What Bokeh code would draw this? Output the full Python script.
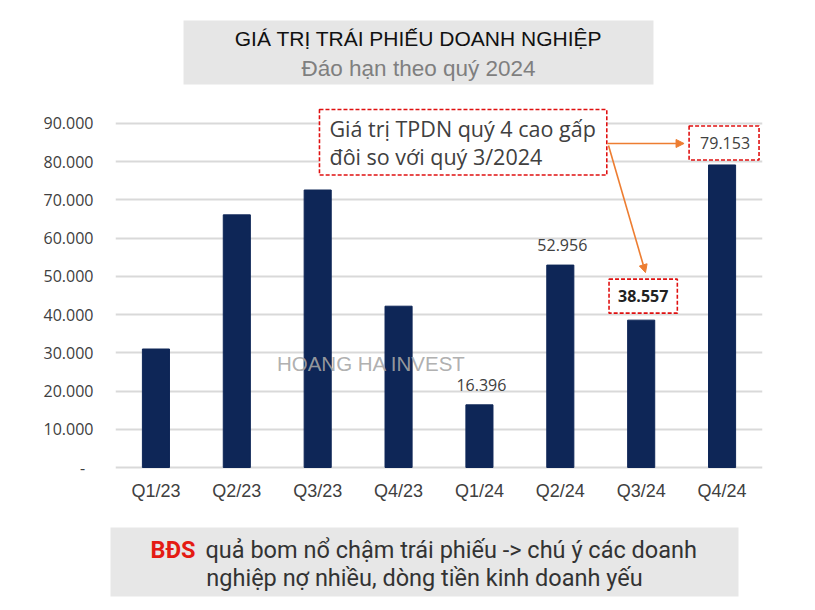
from bokeh.plotting import figure
from bokeh.models import (Range1d, FixedTicker, Label, BoxAnnotation, Arrow, NormalHead,
                          ColumnDataSource)
from bokeh.layouts import column
from bokeh.embed import file_html
from bokeh.resources import INLINE
from bokeh.core.properties import value

# ---- data ----
categories = ["Q1/23", "Q2/23", "Q3/23", "Q4/23", "Q1/24", "Q2/24", "Q3/24", "Q4/24"]
values = [31000, 66100, 72600, 42200, 16396, 52956, 38557, 79153]
y_ticks = [0, 10000, 20000, 30000, 40000, 50000, 60000, 70000, 80000, 90000]
y_tick_labels = ["-\u00a0\u00a0", "10.000", "20.000", "30.000", "40.000", "50.000",
                 "60.000", "70.000", "80.000", "90.000"]
plain_labels = ["Q1/24", "Q2/24"]
boxed_bold = "Q3/24"
boxed_plain = "Q4/24"

title1 = "GIÁ TRỊ TRÁI PHIẾU DOANH NGHIỆP"
title2 = "Đáo hạn theo quý 2024"
callout = "Giá trị TPDN quý 4 cao gấp\nđôi so với quý 3/2024"
watermark = "HOANG HA INVEST"
foot_red = "BĐS"
foot1 = "quả bom nổ chậm trái phiếu -> chú ý các doanh"
foot2 = "nghiệp nợ nhiều, dòng tiền kinh doanh yếu"

def fmt(v):
    return f"{v:,}".replace(",", ".")

pos = [i + 0.5 for i in range(len(categories))]
idx = {c: i for i, c in enumerate(categories)}

NAVY = "#0E2657"
RED = "#E01010"
ORANGE = "#ED7D31"
LBL_FONT = "Open Sans"

p = figure(width=815, height=515, output_backend="svg", toolbar_location=None,
           x_range=Range1d(0, 8), y_range=Range1d(-523, 122180),
           min_border_left=115, min_border_right=53, min_border_top=0, min_border_bottom=46)
p.outline_line_color = None
p.background_fill_color = "white"

src = ColumnDataSource(dict(x=pos, top=values, cat=categories))
p.vbar(x="x", top="top", width=0.335, source=src, fill_color=NAVY, line_color=NAVY)

# axes
p.yaxis.ticker = FixedTicker(ticks=y_ticks)
p.yaxis.major_label_overrides = {t: l for t, l in zip(y_ticks, y_tick_labels)}
p.yaxis.axis_line_color = None
p.yaxis.major_tick_line_color = None
p.yaxis.minor_tick_line_color = None
p.yaxis.major_tick_out = 0
p.yaxis.major_tick_in = 0
p.yaxis.major_label_standoff = 22
p.yaxis.major_label_text_font = LBL_FONT
p.yaxis.major_label_text_font_size = "16px"
p.yaxis.major_label_text_color = "#404040"

p.xaxis.ticker = FixedTicker(ticks=pos)
p.xaxis.major_label_overrides = {x: c for x, c in zip(pos, categories)}
p.xaxis.axis_line_color = None
p.xaxis.major_tick_line_color = None
p.xaxis.minor_tick_line_color = None
p.xaxis.major_tick_out = 0
p.xaxis.major_tick_in = 0
p.xaxis.major_label_standoff = 11
p.xaxis.major_label_text_font = "Liberation Sans"
p.xaxis.major_label_text_font_size = "18px"
p.xaxis.major_label_text_color = "#404040"

p.xgrid.grid_line_color = None
p.ygrid.ticker = FixedTicker(ticks=y_ticks)
p.ygrid.grid_line_color = "#D9D9D9"
p.ygrid.grid_line_width = 1.8

# plain data labels
lsrc = ColumnDataSource(dict(x=[pos[idx[c]] for c in plain_labels],
                             y=[values[idx[c]] for c in plain_labels],
                             t=[fmt(values[idx[c]]) for c in plain_labels]))
p.text(x="x", y="y", text="t", source=lsrc, text_align="center", text_baseline="middle",
       y_offset=-20, x_offset=2, text_font=value(LBL_FONT), text_font_size="16px",
       text_color="#404040")

# boxed labels
pads = {
    boxed_bold: dict(left=9, right=9, top=11, bottom=11),
    boxed_plain: dict(left=11, right=9, top=11, bottom=11),
}
for c, bold, yoff in ((boxed_bold, True, 24), (boxed_plain, False, 22)):
    i = idx[c]
    p.add_layout(Label(x=pos[i], y=values[i], x_offset=2, y_offset=yoff, text=fmt(values[i]),
                       text_align="center", text_baseline="middle",
                       text_font=LBL_FONT, text_font_size="16px",
                       text_font_style="bold" if bold else "normal",
                       text_color="#222222" if bold else "#404040",
                       border_line_color=RED, border_line_dash="4 2", border_line_width=1.6,
                       background_fill_color="white", padding=pads[c]))

# title box
p.add_layout(BoxAnnotation(left=0.841, right=6.652, top=116949, bottom=100204,
                           fill_color="#E6E6E6", fill_alpha=1.0, line_color=None,
                           level="underlay"))
p.add_layout(Label(x=3.747, y=112240, text=title1, text_align="center", text_baseline="middle",
                   text_font="Liberation Sans", text_font_size="21px", text_color="#111111"))
p.add_layout(Label(x=3.747, y=104390, text=title2, text_align="center", text_baseline="middle",
                   text_font="Liberation Sans", text_font_size="22.5px", text_color="#7F7F7F"))

# callout
p.add_layout(Label(x=2.522, y=93663, text=callout, text_align="left", text_baseline="top",
                   text_font=LBL_FONT, text_font_size="21.5px", text_color="#404040",
                   text_line_height=0.95,
                   border_line_color=RED, border_line_dash="4 2", border_line_width=1.6,
                   background_fill_color="white",
                   padding=dict(left=10, right=11, top=5, bottom=4)))

# arrows
p.add_layout(Arrow(x_start=6.083, y_start=84770, x_end=7.030, y_end=84770,
                   line_color=ORANGE, line_width=1.6,
                   end=NormalHead(size=8, fill_color=ORANGE, line_color=ORANGE)))
p.add_layout(Arrow(x_start=6.096, y_start=84247, x_end=6.553, y_end=51000,
                   line_color=ORANGE, line_width=1.6,
                   end=NormalHead(size=8, fill_color=ORANGE, line_color=ORANGE)))

# watermark
p.add_layout(Label(x=3.165, y=27210, text=watermark, text_align="center", text_baseline="middle",
                   text_font="Liberation Sans", text_font_size="20.5px", text_color="#A6A6A6",
                   text_alpha=0.9))

# ---- footer ----
f = figure(width=815, height=95, output_backend="svg", toolbar_location=None,
           y_range=Range1d(95, 0), min_border=0)
try:
    f.frame_align = False
    f.x_range = Range1d(0, 815)
except Exception:
    f.x_range = Range1d(115, 762)
f.axis.visible = False
f.grid.visible = False
f.outline_line_color = None
f.add_layout(BoxAnnotation(left=110, right=738, top=12, bottom=81, fill_color="#E7E7E7",
                           fill_alpha=1.0, line_color=None, level="underlay"))
f.text(x=[150], y=[34], text=[foot_red], text_align="left", text_baseline="middle",
       text_font=value("Roboto"), text_font_size="23.5px", text_font_style="bold",
       text_color="#E41B13")
f.text(x=[205], y=[34], text=[foot1], text_align="left", text_baseline="middle",
       text_font=value("Roboto"), text_font_size="23.5px", text_color="#333333")
f.text(x=[424], y=[62], text=[foot2], text_align="center", text_baseline="middle",
       text_font=value("Roboto"), text_font_size="23.5px", text_color="#333333")

layout = column(p, f, spacing=0)
open("out.html", "w").write(file_html(layout, INLINE))
